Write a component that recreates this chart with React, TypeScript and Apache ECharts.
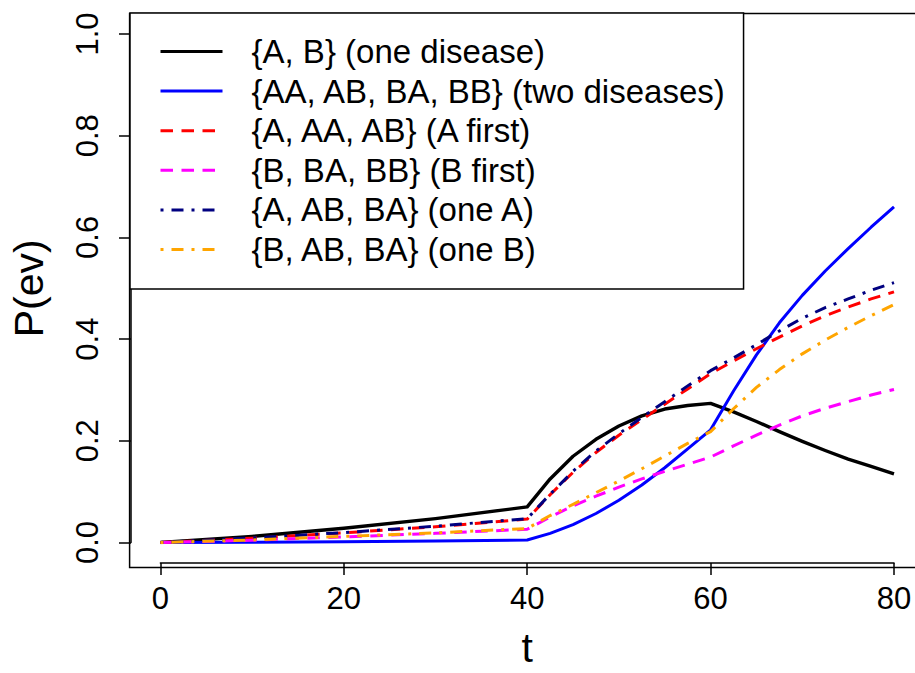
import React, { useEffect, useRef } from "react";
import * as echarts from "echarts";

const tValues = [0, 10, 20, 30, 40, 42.5, 45, 47.5, 50, 52.5, 55, 57.5, 60, 62.5, 65, 67.5, 70, 72.5, 75, 77.5, 80];

const oneDisease = [0, 0.012, 0.028, 0.047, 0.070, 0.125, 0.1696, 0.203, 0.229, 0.249, 0.2625, 0.2695, 0.2735, 0.257, 0.238, 0.218, 0.199, 0.181, 0.164, 0.1495, 0.135];
const twoDiseases = [0, 0.0005, 0.0015, 0.003, 0.005, 0.018, 0.035, 0.057, 0.083, 0.113, 0.147, 0.184, 0.2216, 0.298, 0.369, 0.432, 0.486, 0.534, 0.578, 0.620, 0.660];
const aFirst = [0, 0.0085, 0.019, 0.031, 0.046, 0.094, 0.138, 0.177, 0.211, 0.242, 0.272, 0.302, 0.332, 0.357, 0.381, 0.404, 0.426, 0.446, 0.463, 0.479, 0.493];
const bFirst = [0, 0.0045, 0.011, 0.018, 0.026, 0.050, 0.072, 0.091, 0.109, 0.125, 0.140, 0.154, 0.168, 0.190, 0.211, 0.231, 0.249, 0.264, 0.277, 0.290, 0.301];
const oneA = [0, 0.009, 0.0195, 0.032, 0.047, 0.095, 0.140, 0.180, 0.214, 0.246, 0.277, 0.308, 0.338, 0.363, 0.389, 0.416, 0.441, 0.462, 0.479, 0.496, 0.511];
const oneB = [0, 0.005, 0.012, 0.019, 0.0275, 0.053, 0.075, 0.098, 0.121, 0.145, 0.170, 0.195, 0.218, 0.263, 0.305, 0.340, 0.371, 0.398, 0.423, 0.446, 0.468];

const seriesNames = [
  "{A, B} (one disease)",
  "{AA, AB, BA, BB} (two diseases)",
  "{A, AA, AB} (A first)",
  "{B, BA, BB} (B first)",
  "{A, AB, BA} (one A)",
  "{B, AB, BA} (one B)",
];
const seriesValues = [oneDisease, twoDiseases, aFirst, bFirst, oneA, oneB];
const seriesColors = ["#000000", "#0000FF", "#FF0000", "#FF00FF", "#000080", "#FFA500"];

const X_MIN = 0;
const X_MAX = 80;
const X_STEP = 20;
const Y_MIN = 0;
const Y_MAX = 1;
const Y_STEP = 0.2;

const FONT = "'Liberation Sans', Arial, Helvetica, sans-serif";
const DASHED = [12.5, 8.5];
const DOTDASH = [3, 8, 12, 8];
const lineTypes: any[] = ["solid", "solid", DASHED, DASHED, DOTDASH, DOTDASH];
const lineWidths = [3.4, 3, 3, 3, 3, 3];

export default function App() {
  const ref = useRef<HTMLDivElement>(null);
  useEffect(() => {
    if (!ref.current) return;
    const chart = echarts.init(ref.current, null, { renderer: "svg" });
    chart.setOption({
      animation: false,
      backgroundColor: "#ffffff",
      grid: { left: 159, right: 21, top: 34, bottom: 126, show: false },
      graphic: [
        {
          type: "rect",
          silent: true,
          z: 1,
          shape: { x: 129.6, y: 13.5, width: 793.8, height: 554 },
          style: { fill: "none", stroke: "#000", lineWidth: 1.5 },
        },
      ],
      xAxis: {
        type: "value",
        min: X_MIN,
        max: X_MAX,
        interval: X_STEP,
        offset: 20.5,
        axisLine: { show: true, onZero: false, lineStyle: { color: "#000", width: 1.5 } },
        axisTick: { show: true, length: 12, lineStyle: { color: "#000", width: 1.5 } },
        axisLabel: {
          margin: 20,
          fontSize: 31,
          color: "#000",
          fontFamily: FONT,
          showMinLabel: true,
          showMaxLabel: true,
        },
        splitLine: { show: false },
        name: "t",
        nameLocation: "middle",
        nameGap: 64,
        nameTextStyle: { fontSize: 41, color: "#000", fontFamily: FONT },
      },
      yAxis: {
        type: "value",
        min: Y_MIN,
        max: Y_MAX,
        interval: Y_STEP,
        offset: 29.4,
        axisLine: { show: true, onZero: false, lineStyle: { color: "#000", width: 1.5 } },
        axisTick: { show: true, length: 12, lineStyle: { color: "#000", width: 1.5 } },
        axisLabel: {
          rotate: 90,
          margin: 28,
          fontSize: 31,
          color: "#000",
          fontFamily: FONT,
          showMinLabel: true,
          showMaxLabel: true,
          formatter: (v: number) => v.toFixed(1),
        },
        splitLine: { show: false },
        name: "P(ev)",
        nameLocation: "middle",
        nameGap: 82,
        nameRotate: 90,
        nameTextStyle: { fontSize: 41, color: "#000", fontFamily: FONT },
      },
      legend: {
        orient: "vertical",
        left: 130,
        top: 13,
        padding: [22, 17, 23, 29],
        itemWidth: 62,
        itemHeight: 14,
        itemGap: 6.6,
        selectedMode: false,
        backgroundColor: "#ffffff",
        borderColor: "#000",
        borderWidth: 1.5,
        itemStyle: { opacity: 0 },
        lineStyle: { width: 3 },
        textStyle: { fontSize: 33, lineHeight: 33, color: "#000", fontFamily: FONT, padding: [0, 0, 0, 24] },
        data: seriesNames,
      },
      series: seriesNames.map((name, i) => ({
        name,
        type: "line",
        data: tValues.map((t, j) => [t, seriesValues[i][j]]),
        symbol: "none",
        showSymbol: false,
        color: seriesColors[i],
        itemStyle: { color: seriesColors[i] },
        lineStyle: { color: seriesColors[i], width: lineWidths[i], type: lineTypes[i], cap: "butt", join: "round" },
        emphasis: { disabled: true },
      })),
    });
    return () => chart.dispose();
  }, []);
  return (
    <div
      ref={ref}
      style={{ position: "fixed", left: 0, top: 0, width: 915, height: 673, background: "#fff" }}
    />
  );
}
